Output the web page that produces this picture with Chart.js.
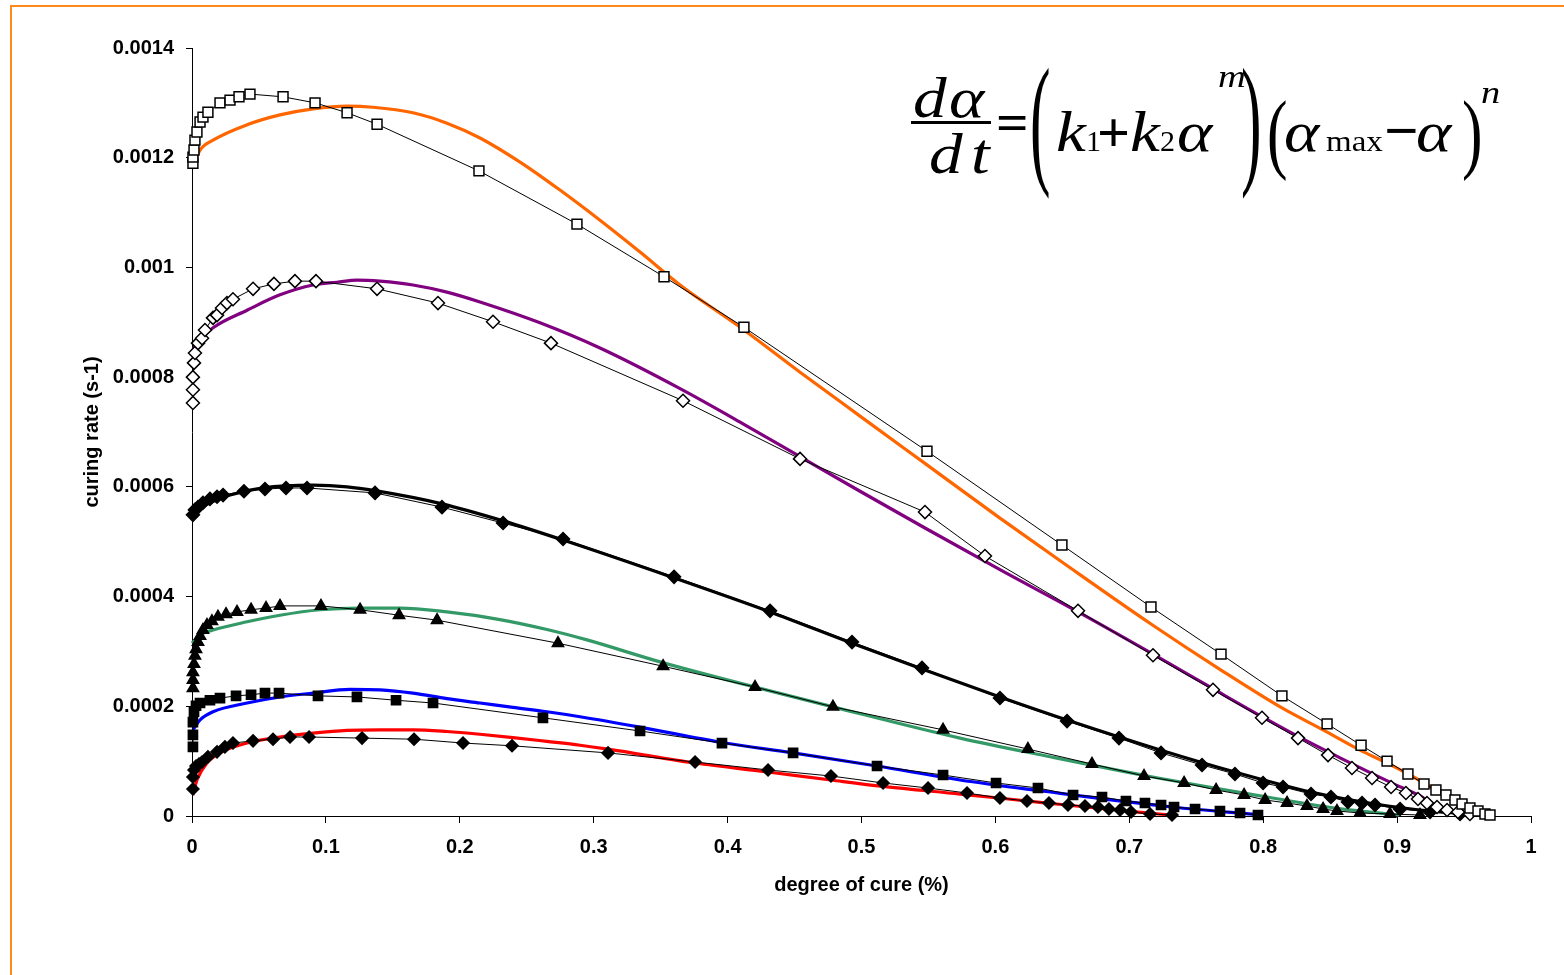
<!DOCTYPE html>
<html>
<head>
<meta charset="utf-8">
<title>Curing rate vs degree of cure</title>
<script src="https://cdn.jsdelivr.net/npm/chart.js@4.4.1/dist/chart.umd.min.js"></script>
<style>
  html, body { margin: 0; padding: 0; background: #fff; }
  canvas { display: block; }
</style>
</head>
<body>
<canvas id="chart" width="1564" height="975"></canvas>
<script>
// Axis ticks
const xTickValues = [0, 0.1, 0.2, 0.3, 0.4, 0.5, 0.6, 0.7, 0.8, 0.9, 1];
const xTickLabels = ['0', '0.1', '0.2', '0.3', '0.4', '0.5', '0.6', '0.7', '0.8', '0.9', '1'];
const yTickValues = [0, 0.0002, 0.0004, 0.0006, 0.0008, 0.001, 0.0012, 0.0014];
const yTickLabels = ['0', '0.0002', '0.0004', '0.0006', '0.0008', '0.001', '0.0012', '0.0014'];

// Measured curing rate [degree of cure, rate], open squares
const measuredA = [
  [0.0007,0.001190],[0.0007,0.001201],[0.0015,0.001214],[0.0022,0.001232],[0.0037,0.001247],
  [0.0060,0.001265],[0.0082,0.001274],[0.0119,0.001283],[0.0209,0.001300],[0.0284,0.001305],
  [0.0351,0.001311],[0.0433,0.001316],[0.0680,0.001311],[0.0919,0.001300],[0.1158,0.001282],
  [0.1382,0.001261],[0.2143,0.001176],[0.2875,0.001079],[0.3525,0.000983],[0.4122,0.000891],
  [0.5489,0.000665],[0.6497,0.000494],[0.7162,0.000381],[0.7685,0.000295],[0.8140,0.000219],
  [0.8477,0.000168],[0.8731,0.000129],[0.8925,0.000100],[0.9081,0.0000766],[0.9201,0.0000583],
  [0.9290,0.0000474],[0.9365,0.0000383],[0.9432,0.0000292],[0.9485,0.0000219],[0.9544,0.0000146],
  [0.9604,0.0000091],[0.9656,0.0000036],[0.9694,0.0000018]
];
// Model fit for series A
const modelA = [
  [0.0007,0.001185],[0.0060,0.001214],[0.0157,0.001232],[0.0411,0.001260],[0.0657,0.001278],
  [0.0904,0.001289],[0.1158,0.001294],[0.1352,0.001292],[0.1650,0.001282],[0.1904,0.001263],
  [0.2151,0.001236],[0.2450,0.001192],[0.2748,0.001141],[0.3047,0.001086],[0.3346,0.001028],
  [0.3645,0.000968],[0.4122,0.000886],[0.4541,0.000809],[0.4989,0.000729],[0.5489,0.000640],
  [0.6034,0.000543],[0.6497,0.000463],[0.7162,0.000350],[0.7685,0.000266],[0.8140,0.000197],
  [0.8447,0.000157],[0.8723,0.000120],[0.8895,0.000100],[0.9096,0.0000747],[0.9320,0.0000437],
  [0.9567,0.0000109]
];

// Open diamonds
const measuredB = [
  [0.0007,0.000753],[0.0007,0.000777],[0.0007,0.000800],[0.0015,0.000826],[0.0022,0.000844],
  [0.0045,0.000862],[0.0075,0.000871],[0.0097,0.000886],[0.0157,0.000908],[0.0187,0.000913],
  [0.0224,0.000926],[0.0261,0.000935],[0.0306,0.000942],[0.0456,0.000961],[0.0612,0.000970],
  [0.0769,0.000975],[0.0926,0.000975],[0.1382,0.000961],[0.1837,0.000935],[0.2248,0.000901],
  [0.2681,0.000862],[0.3667,0.000757],[0.4541,0.000651],[0.5474,0.000554],[0.5922,0.000474],
  [0.6617,0.000374],[0.7177,0.000293],[0.7625,0.000230],[0.7991,0.000179],[0.8260,0.000142],
  [0.8484,0.000111],[0.8663,0.0000875],[0.8813,0.0000693],[0.8955,0.0000529],[0.9066,0.0000419],
  [0.9156,0.0000310],[0.9223,0.0000237],[0.9298,0.0000164],[0.9373,0.0000109],[0.9455,0.0000073],
  [0.9544,0.0000036]
];
const modelB = [
  [0.0007,0.000851],[0.0060,0.000868],[0.0157,0.000890],[0.0411,0.000922],[0.0657,0.000950],
  [0.0904,0.000968],[0.1083,0.000973],[0.1232,0.000977],[0.1404,0.000975],[0.1650,0.000968],
  [0.1904,0.000955],[0.2151,0.000937],[0.2599,0.000899],[0.3047,0.000853],[0.3645,0.000779],
  [0.4122,0.000714],[0.4541,0.000655],[0.4989,0.000592],[0.5474,0.000525],[0.6034,0.000449],
  [0.6617,0.000372],[0.7177,0.000295],[0.7625,0.000232],[0.7991,0.000181],[0.8260,0.000145],
  [0.8574,0.000106],[0.8962,0.0000600],[0.9171,0.0000365],[0.9306,0.0000146]
];

// Filled diamonds (upper)
const measuredC = [
  [0.0007,0.000549],[0.0022,0.000558],[0.0045,0.000563],[0.0082,0.000571],[0.0134,0.000578],
  [0.0187,0.000582],[0.0232,0.000585],[0.0388,0.000592],[0.0545,0.000596],[0.0702,0.000598],
  [0.0859,0.000598],[0.1367,0.000589],[0.1867,0.000563],[0.2323,0.000534],[0.2771,0.000505],
  [0.3600,0.000436],[0.4317,0.000374],[0.4929,0.000317],[0.5452,0.000270],[0.6034,0.000215],
  [0.6535,0.000173],[0.6923,0.000142],[0.7237,0.000115],[0.7543,0.0000930],[0.7789,0.0000766],
  [0.7999,0.0000602],[0.8148,0.0000529],[0.8357,0.0000401],[0.8506,0.0000346],[0.8633,0.0000255],
  [0.8738,0.0000237],[0.8835,0.0000201],[0.9022,0.0000128],[0.9246,0.0000073],[0.9470,0.0000036]
];
const modelC = [
  [0.0007,0.000552],[0.0134,0.000571],[0.0284,0.000585],[0.0530,0.000598],[0.0904,0.000603],
  [0.1158,0.000600],[0.1367,0.000593],[0.1867,0.000569],[0.2323,0.000538],[0.2771,0.000503],
  [0.3600,0.000434],[0.4317,0.000372],[0.4929,0.000315],[0.5452,0.000268],[0.6034,0.000217],
  [0.6535,0.000175],[0.7237,0.000120],[0.7789,0.0000802],[0.8357,0.0000437],[0.8835,0.0000219],
  [0.9246,0.0000091],[0.9544,0.0000036]
];

// Filled triangles
const measuredD = [
  [0.0007,0.000233],[0.0007,0.000248],[0.0007,0.000262],[0.0015,0.000277],[0.0022,0.000292],
  [0.0030,0.000304],[0.0045,0.000317],[0.0060,0.000328],[0.0082,0.000339],[0.0112,0.000348],
  [0.0149,0.000355],[0.0194,0.000363],[0.0254,0.000368],[0.0336,0.000372],[0.0441,0.000376],
  [0.0553,0.000379],[0.0657,0.000383],[0.0963,0.000383],[0.1255,0.000376],[0.1546,0.000366],
  [0.1830,0.000357],[0.2733,0.000315],[0.3518,0.000273],[0.4205,0.000235],[0.4787,0.000199],
  [0.5609,0.000157],[0.6243,0.000122],[0.6721,0.0000948],[0.7110,0.0000729],[0.7409,0.0000602],
  [0.7648,0.0000474],[0.7857,0.0000383],[0.8014,0.0000292],[0.8178,0.0000237],[0.8327,0.0000182],
  [0.8447,0.0000128],[0.8551,0.0000091],[0.8723,0.0000055],[0.8947,0.0000036],[0.9171,0.0000018]
];
const modelD = [
  [0.0000,0.000315],[0.0060,0.000330],[0.0157,0.000339],[0.0411,0.000354],[0.0657,0.000366],
  [0.0956,0.000376],[0.1255,0.000379],[0.1553,0.000379],[0.1904,0.000372],[0.2278,0.000359],
  [0.2651,0.000340],[0.2950,0.000321],[0.3495,0.000281],[0.4205,0.000235],[0.4787,0.000199],
  [0.5736,0.000142],[0.6408,0.000108],[0.7155,0.0000720],[0.7901,0.0000400],[0.8551,0.0000140],
  [0.9014,0.0000018]
];

// Filled squares
const measuredE = [
  [0.0007,0.000126],[0.0007,0.000148],[0.0007,0.000171],[0.0015,0.000190],[0.0030,0.000201],
  [0.0060,0.000206],[0.0134,0.000211],[0.0209,0.000215],[0.0329,0.000219],[0.0441,0.000221],
  [0.0545,0.000224],[0.0650,0.000224],[0.0941,0.000219],[0.1232,0.000217],[0.1524,0.000211],
  [0.1800,0.000206],[0.2621,0.000179],[0.3346,0.000155],[0.3958,0.000133],[0.4489,0.000115],
  [0.5116,0.0000911],[0.5609,0.0000747],[0.6005,0.0000602],[0.6318,0.0000510],[0.6580,0.0000383],
  [0.6796,0.0000346],[0.6975,0.0000273],[0.7117,0.0000237],[0.7237,0.0000201],[0.7334,0.0000164],
  [0.7491,0.0000128],[0.7677,0.0000091],[0.7827,0.0000055],[0.7961,0.0000018]
];
const modelE = [
  [0.0007,0.000157],[0.0060,0.000175],[0.0157,0.000190],[0.0411,0.000206],[0.0657,0.000217],
  [0.0904,0.000224],[0.1180,0.000231],[0.1404,0.000230],[0.1650,0.000224],[0.1904,0.000214],
  [0.2151,0.000206],[0.2397,0.000198],[0.2651,0.000190],[0.2898,0.000181],[0.3346,0.000162],
  [0.3958,0.000134],[0.4489,0.000115],[0.5116,0.0000911],[0.5736,0.0000656],[0.6333,0.0000460],
  [0.7319,0.0000164],[0.7984,0.0000018]
];

// Filled diamonds (lower)
const measuredF = [
  [0.0007,0.0000492],[0.0007,0.0000711],[0.0015,0.0000839],[0.0030,0.0000911],[0.0052,0.0000948],
  [0.0075,0.0000984],[0.0119,0.000108],[0.0187,0.000117],[0.0246,0.000126],[0.0306,0.000133],
  [0.0456,0.000137],[0.0605,0.000140],[0.0732,0.000144],[0.0874,0.000144],[0.1270,0.000142],
  [0.1658,0.000140],[0.2024,0.000133],[0.2390,0.000128],[0.3107,0.000115],[0.3757,0.0000984],
  [0.4302,0.0000839],[0.4772,0.0000729],[0.5161,0.0000602],[0.5497,0.0000510],[0.5788,0.0000419],
  [0.6034,0.0000328],[0.6236,0.0000273],[0.6400,0.0000237],[0.6542,0.0000201],[0.6669,0.0000182],
  [0.6766,0.0000164],[0.6848,0.0000128],[0.6931,0.0000109],[0.7013,0.0000073],[0.7155,0.0000036],
  [0.7319,0.0000018]
];
const modelF = [
  [0.0007,0.0000383],[0.0037,0.0000656],[0.0112,0.0000966],[0.0209,0.000115],[0.0411,0.000133],
  [0.0657,0.000144],[0.0904,0.000151],[0.1158,0.000156],[0.1404,0.000157],[0.1650,0.000157],
  [0.1904,0.000154],[0.2151,0.000149],[0.2397,0.000143],[0.2651,0.000136],[0.2898,0.000129],
  [0.3107,0.000122],[0.3757,0.0000966],[0.4302,0.0000802],[0.4772,0.0000656],[0.5161,0.0000540],
  [0.5736,0.0000400],[0.6333,0.0000250],[0.6901,0.0000109],[0.7304,0.0000018]
];

const toXY = pts => pts.map(p => ({ x: p[0], y: p[1] }));

function measured(label, pts, style, radius, fill) {
  return {
    label, data: toXY(pts), type: 'line',
    borderColor: '#000', borderWidth: 1, tension: 0,
    pointStyle: style, pointRadius: radius,
    pointBackgroundColor: fill, pointBorderColor: '#000', pointBorderWidth: 1.5,
    clip: 12
  };
}
function model(label, pts, colour) {
  return {
    label, data: toXY(pts), type: 'line',
    borderColor: colour, borderWidth: 3.2, pointRadius: 0,
    cubicInterpolationMode: 'monotone', clip: 12
  };
}

const axisFont = { family: '"Liberation Sans", Arial, sans-serif', size: 20, weight: 'bold' };

// Outer orange frame
const framePlugin = {
  id: 'frame',
  beforeDraw(chart) {
    const ctx = chart.ctx;
    ctx.save();
    ctx.fillStyle = '#fff';
    ctx.fillRect(0, 0, chart.width, chart.height);
    ctx.strokeStyle = '#FF8A1C';
    ctx.lineWidth = 2;
    ctx.beginPath();
    ctx.moveTo(11, chart.height);
    ctx.lineTo(11, 6);
    ctx.lineTo(chart.width, 6);
    ctx.stroke();
    ctx.restore();
  }
};

// Rate equation drawn in the upper right corner
const equationPlugin = {
  id: 'equation',
  afterDraw(chart) {
    const ctx = chart.ctx;
    const serif = '"Liberation Serif", "Times New Roman", serif';
    const it = s => `italic ${s}px ${serif}`;
    const rm = s => `${s}px ${serif}`;
    const SX = 1.2;
    ctx.save();
    ctx.fillStyle = '#000';
    ctx.textBaseline = 'alphabetic';
    ctx.textAlign = 'left';

    const put = (t, x, y, font, sx = SX) => {
      ctx.save();
      ctx.font = font;
      ctx.translate(x, y);
      ctx.scale(sx, 1);
      ctx.fillText(t, 0, 0);
      ctx.restore();
    };
    const putMid = (t, x, cy, font, sx = SX) => {
      ctx.font = font;
      const m = ctx.measureText(t);
      const y = cy + (m.actualBoundingBoxAscent - m.actualBoundingBoxDescent) / 2;
      put(t, x, y, font, sx);
    };
    const stretch = (t, x, top, bottom, font, sx = 1.1) => {
      ctx.font = font;
      const m = ctx.measureText(t);
      const h = m.actualBoundingBoxAscent + m.actualBoundingBoxDescent;
      const sy = (bottom - top) / h;
      ctx.save();
      ctx.font = font;
      ctx.translate(x, top + m.actualBoundingBoxAscent * sy);
      ctx.scale(sx, sy);
      ctx.fillText(t, 0, 0);
      ctx.restore();
    };

    // d alpha / d t
    put('d', 913, 117, it(56));
    put('\u03B1', 949, 117, it(56));
    ctx.fillRect(911, 121, 80, 3);
    put('d', 929, 173, it(56));
    put('t', 971, 173, it(56));
    putMid('=', 996, 123, `bold 52px ${serif}`, 1.1);

    // ( k1 + k2 alpha^m )
    stretch('(', 1030, 65, 202, rm(56));
    put('k', 1056, 151, it(56));
    put('1', 1086, 151, rm(30), 1.0);
    putMid('+', 1097, 132, `bold 58px ${serif}`, 1.0);
    put('k', 1130, 151, it(56));
    put('2', 1160, 151, rm(30), 1.0);
    put('\u03B1', 1177, 151, it(56));
    put('m', 1218, 87, it(32));
    stretch(')', 1241, 65, 202, rm(56));

    // ( alpha_max - alpha )^n
    stretch('(', 1267, 98, 183, rm(56));
    put('\u03B1', 1284, 151, it(56));
    put('max', 1326, 151, rm(30), 1.1);
    putMid('\u2212', 1384, 130, `bold 58px ${serif}`, 1.05);
    put('\u03B1', 1416, 151, it(56));
    stretch(')', 1462, 98, 183, rm(56));
    put('n', 1481, 103, it(32));
    ctx.restore();
  }
};

const chart = new Chart(document.getElementById('chart'), {
  type: 'line',
  data: {
    datasets: [
      measured('A data', measuredA, 'rect', 7, '#fff'),
      measured('B data', measuredB, 'rectRot', 6.5, '#fff'),
      measured('C data', measuredC, 'rectRot', 6.5, '#000'),
      measured('D data', measuredD, 'triangle', 6.5, '#000'),
      measured('E data', measuredE, 'rect', 6.5, '#000'),
      measured('F data', measuredF, 'rectRot', 6, '#000'),
      model('A model', modelA, '#FF6600'),
      model('B model', modelB, '#800080'),
      model('C model', modelC, '#000000'),
      model('D model', modelD, '#339966'),
      model('E model', modelE, '#0000FF'),
      model('F model', modelF, '#FF0000')
    ]
  },
  options: {
    responsive: false,
    devicePixelRatio: 1,
    animation: false,
    events: [],
    layout: { padding: { top: 48, right: 33, bottom: 49, left: 0 } },
    plugins: { legend: { display: false }, tooltip: { enabled: false } },
    scales: {
      x: {
        type: 'linear', min: 0, max: 1,
        afterBuildTicks: s => { s.ticks = xTickValues.map(v => ({ value: v })); },
        afterFit: s => { s.height = 110; },
        ticks: {
          callback: (v, i) => xTickLabels[i],
          font: axisFont, color: '#000', padding: 12,
          maxRotation: 0, autoSkip: false
        },
        grid: { drawOnChartArea: false, drawTicks: true, tickLength: 7, color: '#000', lineWidth: 1 },
        border: { display: true, color: '#000', width: 1 },
        title: { display: true, text: 'degree of cure (%)', font: axisFont, color: '#000', padding: { top: 0, bottom: 29 } }
      },
      y: {
        type: 'linear', min: 0, max: 0.0014,
        afterBuildTicks: s => { s.ticks = yTickValues.map(v => ({ value: v })); },
        afterFit: s => { s.width = 192; },
        ticks: {
          callback: (v, i) => yTickLabels[i],
          font: axisFont, color: '#000', padding: 12, autoSkip: false
        },
        grid: { drawOnChartArea: false, drawTicks: true, tickLength: 6, color: '#000', lineWidth: 1 },
        border: { display: true, color: '#000', width: 1 },
        title: { display: true, text: 'curing rate (s-1)', font: axisFont, color: '#000', padding: { top: 80, bottom: 0 } }
      }
    }
  },
  plugins: [framePlugin, equationPlugin]
});
</script>
</body>
</html>
